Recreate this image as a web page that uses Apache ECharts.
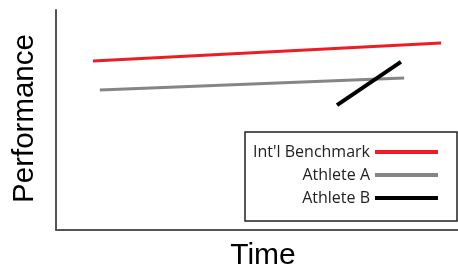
<!DOCTYPE html>
<html>
<head>
<meta charset="utf-8">
<script src="https://cdn.jsdelivr.net/npm/echarts@6/dist/echarts.min.js"></script>
<style>
  html, body { margin: 0; padding: 0; background: #fff; }
  #main { width: 458px; height: 265px; }
</style>
</head>
<body>
<div id="main"></div>
<script>
// series values (time %, performance %)
const seriesNames = ["Int'l Benchmark", "Athlete A", "Athlete B"];
const benchmark = [[9.2, 76.8], [95.8, 85.0]];
const athleteA = [[10.9, 63.6], [86.6, 69.1]];
const athleteB = [[69.9, 56.8], [85.8, 76.4]];
const colors = ["#ee1c25", "#858585", "#000000"];
const widths = [3, 3, 4];

let myChart = echarts.init(document.querySelector("#main"));

const dataList = [benchmark, athleteA, athleteB];

let option = {
  animation: false,
  grid: { left: 56, right: 0, top: 10, bottom: 35, containLabel: false, outerBoundsMode: "none" },
  xAxis: {
    type: "value",
    min: 0,
    max: 100,
    name: "Time",
    nameLocation: "middle",
    nameGap: 11,
    nameTextStyle: { fontFamily: "Liberation Sans", fontSize: 30, color: "#000", verticalAlign: "top", padding: [0, 0, 0, 12] },
    axisLine: { show: true, lineStyle: { color: "#555", width: 2 } },
    axisTick: { show: false },
    axisLabel: { show: false },
    splitLine: { show: false }
  },
  yAxis: {
    type: "value",
    min: 0,
    max: 100,
    name: "Performance",
    nameLocation: "middle",
    nameGap: 16,
    nameTextStyle: { fontFamily: "Liberation Sans", fontSize: 29.5, color: "#000", padding: [0, 0, 0, 3] },
    axisLine: { show: true, lineStyle: { color: "#555", width: 2 } },
    axisTick: { show: false },
    axisLabel: { show: false },
    splitLine: { show: false }
  },
  legend: {
    orient: "vertical",
    align: "right",
    right: 20,
    top: 144,
    padding: 0,
    itemGap: 7,
    itemWidth: 63,
    itemHeight: 4,
    icon: "rect",
    textStyle: { fontFamily: "Open Sans", fontSize: 16, color: "#222", lineHeight: 16 },
    data: seriesNames
  },
  graphic: [
    {
      type: "rect",
      shape: { x: 245, y: 132, width: 212, height: 89 },
      style: { fill: "#fff", stroke: "#222", lineWidth: 1.5 },
      z: 0
    }
  ],
  series: seriesNames.map((name, i) => ({
    name: name,
    type: "line",
    data: dataList[i],
    showSymbol: false,
    color: colors[i],
    lineStyle: { color: colors[i], width: widths[i] },
    z: 3
  }))
};

myChart.setOption(option);
</script>
</body>
</html>
